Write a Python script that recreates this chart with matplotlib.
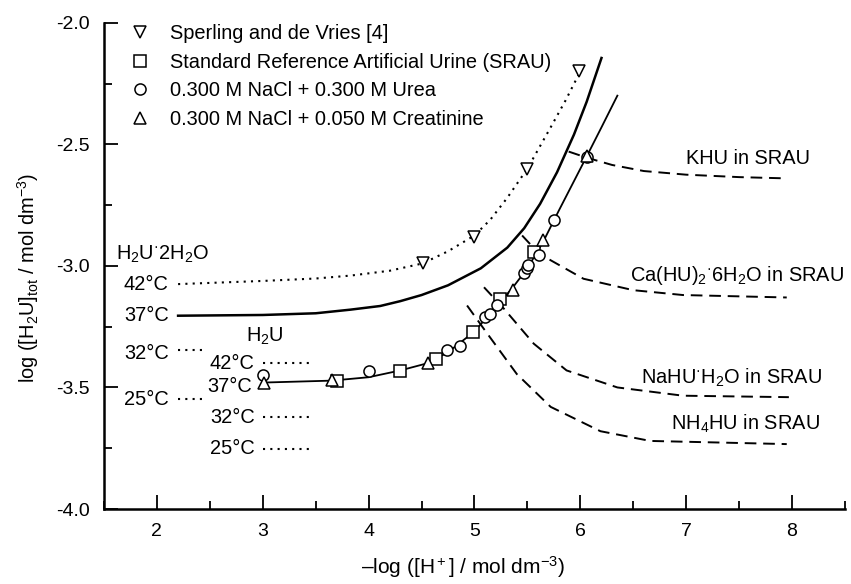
import numpy as np
import matplotlib
matplotlib.use('Agg')
import matplotlib.pyplot as plt
from matplotlib.ticker import MultipleLocator, FormatStrFormatter
from matplotlib.lines import Line2D

plt.rcParams['font.family'] = ['Liberation Sans', 'DejaVu Sans']
plt.rcParams['mathtext.fontset'] = 'custom'
plt.rcParams['mathtext.rm'] = 'Liberation Sans'
plt.rcParams['mathtext.it'] = 'Liberation Sans:italic'
plt.rcParams['mathtext.default'] = 'regular'
plt.rcParams['axes.unicode_minus'] = False

# measured points
sperling_x = [4.51, 5.00, 5.50, 5.99]
sperling_y = [-2.99, -2.88, -2.60, -2.20]
srau_x = [3.70, 4.30, 4.64, 4.99, 5.24, 5.56]
srau_y = [-3.475, -3.434, -3.383, -3.27, -3.136, -2.944]
urea_x = [3.00, 4.00, 4.74, 4.86, 5.10, 5.15, 5.21, 5.47, 5.50, 5.51, 5.61, 5.75, 6.06]
urea_y = [-3.447, -3.434, -3.346, -3.328, -3.21, -3.197, -3.163, -3.03, -3.01, -2.995, -2.955, -2.81, -2.552]
creat_x = [3.01, 3.65, 4.56, 5.36, 5.65, 6.06]
creat_y = [-3.48, -3.47, -3.40, -3.10, -2.895, -2.55]

# curves
dotted_x = [2.2, 3.0, 3.5, 3.83, 4.2, 4.51, 4.75, 5.0, 5.15, 5.31, 5.5, 5.72, 5.86, 6.0]
dotted_y = [-3.075, -3.062, -3.052, -3.04, -3.02, -2.99, -2.94, -2.875, -2.81, -2.72, -2.60, -2.43, -2.32, -2.20]
upper_x = [2.2, 3.0, 3.5, 3.83, 4.11, 4.3, 4.5, 4.75, 5.06, 5.31, 5.47, 5.62, 5.78, 5.94, 6.06, 6.20]
upper_y = [-3.205, -3.202, -3.195, -3.18, -3.165, -3.145, -3.12, -3.08, -3.01, -2.925, -2.845, -2.745, -2.615, -2.46, -2.325, -2.145]
lower_x = [3.0, 3.65, 4.0, 4.3, 4.56, 4.75, 5.0, 5.2, 5.36, 5.5, 5.65, 5.8, 5.93, 6.06, 6.2, 6.35]
lower_y = [-3.48, -3.472, -3.458, -3.43, -3.40, -3.355, -3.27, -3.17, -3.09, -3.01, -2.90, -2.77, -2.66, -2.55, -2.43, -2.30]

khu_x = [5.89, 6.06, 6.3, 6.6, 7.0, 7.5, 7.93]
khu_y = [-2.53, -2.555, -2.585, -2.61, -2.625, -2.635, -2.64]
ca_x = [5.45, 5.61, 6.03, 6.5, 6.97, 7.95]
ca_y = [-2.875, -2.95, -3.053, -3.10, -3.12, -3.13]
na_x = [5.09, 5.28, 5.56, 5.87, 6.35, 6.97, 7.97]
na_y = [-3.088, -3.177, -3.32, -3.43, -3.50, -3.534, -3.54]
nh4_x = [4.93, 5.09, 5.40, 5.72, 6.19, 6.66, 7.95]
nh4_y = [-3.163, -3.26, -3.445, -3.58, -3.68, -3.72, -3.733]

# short temperature marks
dihyd_x = [2.2, 2.44]
dihyd_32 = -3.346
dihyd_25 = -3.548
h2u_x = [3.0, 3.44]
h2u_42 = -3.40
h2u_32 = -3.622
h2u_25 = -3.754

fig = plt.figure(figsize=(8.51, 5.84), dpi=100)
ax = fig.add_axes([0.1222, 0.1284, 0.8707, 0.8327])

dot = (0, (1, 2.5))
dash = (0, (6, 3.5))
ax.plot(dotted_x, dotted_y, color='black', lw=1.5, linestyle=dot)
ax.plot(upper_x, upper_y, color='black', lw=1.8)
ax.plot(lower_x, lower_y, color='black', lw=1.3)
for xs, ys in [(khu_x, khu_y), (ca_x, ca_y), (na_x, na_y), (nh4_x, nh4_y)]:
    ax.plot(xs, ys, color='black', lw=1.4, linestyle=dash)
ax.plot(dihyd_x, [dihyd_32] * 2, color='black', lw=1.5, linestyle=dot)
ax.plot(dihyd_x, [dihyd_25] * 2, color='black', lw=1.5, linestyle=dot)
for yv in [h2u_42, h2u_32, h2u_25]:
    ax.plot(h2u_x, [yv] * 2, color='black', lw=1.5, linestyle=dot)

mk = dict(linestyle='none', mfc='white', mec='black', mew=1.1, ms=8)
ax.plot(sperling_x, sperling_y, marker='v', **mk)
ax.plot(srau_x, srau_y, marker='s', **mk)
ax.plot(urea_x, urea_y, marker='o', **mk)
ax.plot(creat_x, creat_y, marker='^', **mk)

fs = 14.4
labels = ['Sperling and de Vries [4]', 'Standard Reference Artificial Urine (SRAU)',
          '0.300 M NaCl + 0.300 M Urea', '0.300 M NaCl + 0.050 M Creatinine']
handles = [Line2D([], [], marker=m, **mk) for m in ['v', 's', 'o', '^']]
ax.legend(handles, labels, loc='upper left', bbox_to_anchor=(0.035, 0.997), frameon=False,
          fontsize=fs, handlelength=1.0, handletextpad=1.0, labelspacing=0.48,
          borderpad=0, borderaxespad=0)

# labels on the chart
ax.text(7.0, -2.56, 'KHU in SRAU', fontsize=fs, va='center')
ax.text(6.47, -3.04, 'Ca(HU)$_2$$^{\u00b7}$6H$_2$O in SRAU', fontsize=fs, va='center')
ax.text(6.57, -3.46, 'NaHU$^{\u00b7}$H$_2$O in SRAU', fontsize=fs, va='center')
ax.text(6.86, -3.65, 'NH$_4$HU in SRAU', fontsize=fs, va='center')

ax.text(1.613, -2.954, 'H$_2$U$^{\u00b7}$2H$_2$O', fontsize=fs, va='center')
ax.text(1.689, -3.076, '42°C', fontsize=fs, va='center')
ax.text(1.689, -3.205, '37°C', fontsize=fs, va='center')
ax.text(1.689, -3.36, '32°C', fontsize=fs, va='center')
ax.text(1.689, -3.55, '25°C', fontsize=fs, va='center')
ax.text(2.84, -3.29, 'H$_2$U', fontsize=fs, va='center')
ax.text(2.50, -3.40, '42°C', fontsize=fs, va='center')
ax.text(2.48, -3.496, '37°C', fontsize=fs, va='center')
ax.text(2.50, -3.625, '32°C', fontsize=fs, va='center')
ax.text(2.50, -3.753, '25°C', fontsize=fs, va='center')

ax.set_xlim(1.5, 8.5)
ax.set_ylim(-4.0, -2.0)
ax.xaxis.set_major_locator(MultipleLocator(1))
ax.xaxis.set_minor_locator(MultipleLocator(0.5))
ax.yaxis.set_major_locator(MultipleLocator(0.5))
ax.yaxis.set_minor_locator(MultipleLocator(0.25))
ax.yaxis.set_major_formatter(FormatStrFormatter('%.1f'))
ax.set_xticks([2, 3, 4, 5, 6, 7, 8])
ax.tick_params(which='major', direction='in', length=10, width=1.3, pad=10, labelsize=14)
ax.tick_params(which='minor', direction='in', length=5.5, width=1.3)
for s in ['top', 'right']:
    ax.spines[s].set_visible(False)
for s in ['left', 'bottom']:
    ax.spines[s].set_linewidth(1.8)

ax.set_xlabel('\u2013log ([H$^+$] / mol dm$^{-3}$)', fontsize=15)
ax.set_ylabel('log ([H$_2$U]$_{tot}$ / mol dm$^{-3}$)', fontsize=fs)
ax.xaxis.set_label_coords(0.485, -0.0925)
ax.yaxis.set_label_coords(-0.085, 0.475)

fig.savefig('out.png', dpi=100)
